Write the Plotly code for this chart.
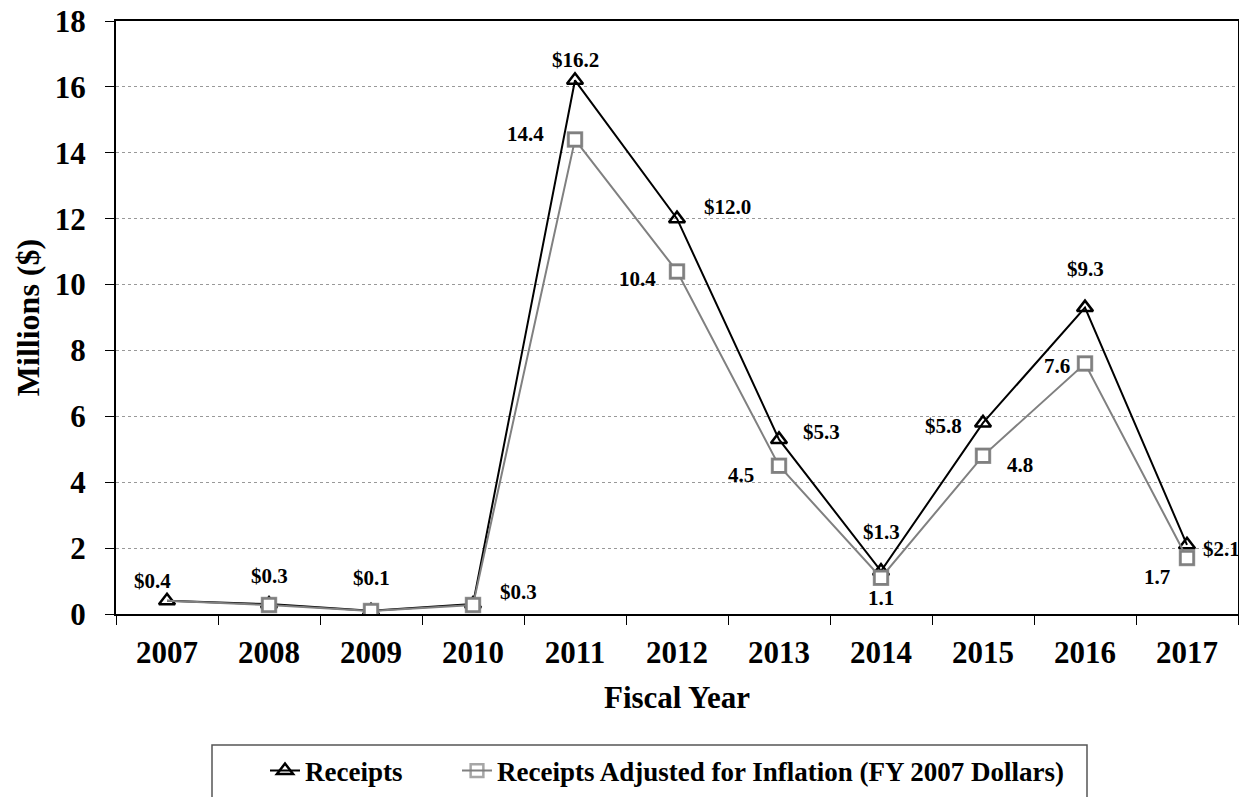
import plotly.graph_objects as go

years = [2007, 2008, 2009, 2010, 2011, 2012, 2013, 2014, 2015, 2016, 2017]
year_labels = ["2007", "2008", "2009", "2010", "2011", "2012", "2013", "2014", "2015", "2016", "2017"]
receipts = [0.4, 0.3, 0.1, 0.3, 16.2, 12.0, 5.3, 1.3, 5.8, 9.3, 2.1]
adjusted = [0.4, 0.27, 0.09, 0.27, 14.4, 10.4, 4.5, 1.1, 4.8, 7.6, 1.7]
receipt_labels = ["$0.4", "$0.3", "$0.1", "$0.3", "$16.2", "$12.0", "$5.3", "$1.3", "$5.8", "$9.3", "$2.1"]
adjusted_labels = ["", "", "", "", "14.4", "10.4", "4.5", "1.1", "4.8", "7.6", "1.7"]

# label pixel offsets (dx, dy) relative to data point
receipt_offsets = [(-15, 20), (0, 28), (0, 33), (45, 12), (0, 20), (50, 12), (42, 7), (0, 39), (-40, -3), (0, 39), (34, -4)]
adjusted_offsets = [(0, 0), (0, 0), (0, 0), (0, 0), (-50, 6), (-40, -8), (-38, -9), (0, -20), (37, -9), (-28, -2), (-30, -19)]

FONT = "Liberation Serif, Times New Roman, serif"
LBL = dict(family=FONT, size=21, color="black", weight="bold")
LEGFONT = dict(family=FONT, size=27, color="black", weight="bold")

# page body has an 8px margin; figure is sized so the plot lands where the reference has it
OFF = 8
W, H = 1247 - OFF, 797 - OFF
ML, MT, MR, MB = 116 - OFF, 21 - OFF, 9, 183
PW = W - ML - MR
PH = H - MT - MB


def px_x(x):
    return (x - 116) / PW


def px_y(y):
    return (614 - y) / PH


def cx(x):
    return (x - OFF) / W


def cy(y):
    return 1 - (y - OFF) / H


fig = go.Figure()
fig.add_trace(go.Scatter(
    x=years, y=receipts, mode="lines+markers", name="Receipts", legend="legend",
    line=dict(color="black", width=2),
    marker=dict(symbol="triangle-up-open", size=14, color="black", line=dict(width=2.5, color="black")),
))
fig.add_trace(go.Scatter(
    x=years, y=adjusted, mode="lines+markers", name="Receipts Adjusted for Inflation (FY 2007 Dollars)",
    legend="legend2",
    line=dict(color="#808080", width=2),
    marker=dict(symbol="square-open", size=[0] + [14] * (len(years) - 1), color="#808080",
                line=dict(width=2.5, color="#808080")),
))
# white-filled squares drawn over the lines
fig.add_trace(go.Scatter(
    x=years[1:], y=adjusted[1:], mode="markers", showlegend=False, hoverinfo="skip",
    marker=dict(symbol="square", size=13, color="white", line=dict(width=2.5, color="#808080")),
))

for i, y in enumerate(years):
    dx, dy = receipt_offsets[i]
    fig.add_annotation(x=y, y=receipts[i], text=receipt_labels[i], showarrow=False,
                       xshift=dx, yshift=dy, font=LBL)
    if adjusted_labels[i]:
        dx, dy = adjusted_offsets[i]
        fig.add_annotation(x=y, y=adjusted[i], text=adjusted_labels[i], showarrow=False,
                           xshift=dx, yshift=dy, font=LBL)

# legend frame
fig.add_shape(type="rect", xref="paper", yref="paper", x0=px_x(212), x1=px_x(1087),
              y0=px_y(815), y1=px_y(745), line=dict(color="#555555", width=1.5),
              fillcolor="rgba(0,0,0,0)", layer="above")

leg_common = dict(orientation="h", xanchor="left", yanchor="middle", xref="container", yref="container",
                  borderwidth=0, bgcolor="rgba(0,0,0,0)", font=LEGFONT)

fig.update_layout(
    width=W, height=H,
    margin=dict(l=ML, r=MR, t=MT, b=MB),
    paper_bgcolor="white", plot_bgcolor="white",
    font=dict(family=FONT, color="black"),
    showlegend=True,
    legend=dict(x=cx(265), y=cy(771), **leg_common),
    legend2=dict(x=cx(457), y=cy(771), **leg_common),
    xaxis=dict(range=[years[0] - 0.5, years[-1] + 0.5], tickmode="array", tickvals=years, ticktext=year_labels,
               ticks="", showline=True, linecolor="black", linewidth=2, mirror=True, showgrid=False, zeroline=False,
               automargin=False, ticklabelstandoff=10, ticklabeloverflow="allow",
               minor=dict(tickmode="linear", tick0=years[0] - 0.5, dtick=1, ticks="outside", ticklen=9,
                          tickcolor="black", showgrid=False),
               tickfont=dict(family=FONT, size=31, color="black", weight="bold"),
               title=dict(text="Fiscal Year", font=dict(family=FONT, size=31, color="black", weight="bold"), standoff=17)),
    yaxis=dict(range=[0, 18], dtick=2, ticks="outside", ticklen=9, tickcolor="black",
               showline=True, linecolor="black", linewidth=2, mirror=True, automargin=False, ticklabelstandoff=13,
               ticklabeloverflow="allow",
               showgrid=True, gridcolor="#999999", griddash="dot", gridwidth=1, zeroline=False,
               tickfont=dict(family=FONT, size=31, color="black", weight="bold"),
               title=dict(text="Millions ($)", font=dict(family=FONT, size=32, color="black", weight="bold"), standoff=6)),
)

fig.write_html("out.html")
